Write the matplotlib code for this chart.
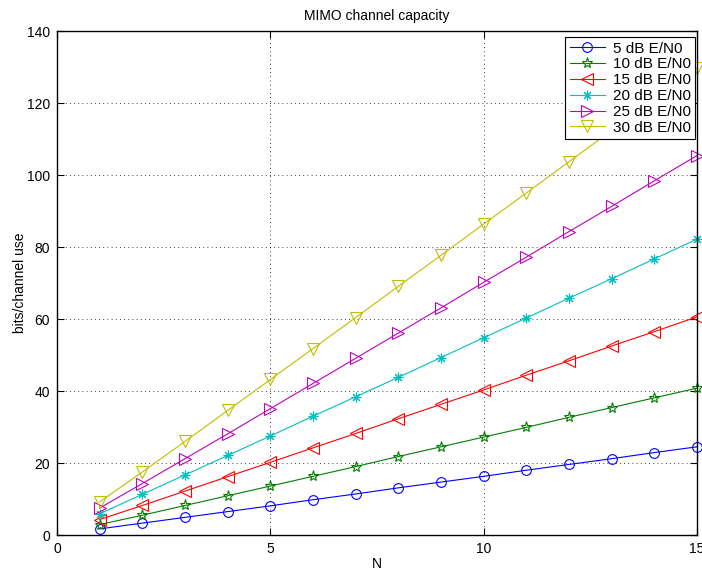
import numpy as np
import matplotlib
matplotlib.use('Agg')
import matplotlib.pyplot as plt

# antennas
N = list(range(1, 16))

# capacity (bits/channel use), one list per E/N0
cap_5 = [1.7, 3.3, 4.9, 6.5, 8.1, 9.8, 11.4, 13.1, 14.7, 16.3, 18.0, 19.6, 21.2, 22.9, 24.5]
cap_10 = [2.9, 5.5, 8.2, 10.9, 13.6, 16.3, 19.0, 21.8, 24.5, 27.2, 29.9, 32.7, 35.4, 38.1, 40.8]
cap_15 = [4.3, 8.2, 12.2, 16.2, 20.2, 24.2, 28.2, 32.3, 36.3, 40.3, 44.4, 48.4, 52.5, 56.5, 60.6]
cap_20 = [5.9, 11.3, 16.7, 22.1, 27.5, 33.0, 38.4, 43.8, 49.3, 54.8, 60.3, 65.8, 71.2, 76.7, 82.2]
cap_25 = [7.5, 14.3, 21.2, 28.1, 35.1, 42.1, 49.1, 56.1, 63.1, 70.2, 77.2, 84.3, 91.3, 98.4, 105.4]
cap_30 = [9.2, 17.5, 26.0, 34.6, 43.2, 51.8, 60.4, 69.1, 77.7, 86.4, 95.0, 103.7, 112.4, 121.1, 129.7]

labels = ['5 dB E/N0', '10 dB E/N0', '15 dB E/N0', '20 dB E/N0', '25 dB E/N0', '30 dB E/N0']


def make_figure():
    matplotlib.rcParams.update({'font.family': ['Liberation Sans', 'DejaVu Sans'],
                                'font.size': 10})
    fig = plt.figure(figsize=(7.02, 5.70), dpi=100)
    ax = fig.add_axes([0.0812, 0.0614, 0.9118, 0.8842])
    return fig, ax


fig, ax = make_figure()

series = [cap_5, cap_10, cap_15, cap_20, cap_25, cap_30]
colors = ['b', 'g', 'r', 'c', 'm', 'y']
markers = ['o', '*', '<', (8, 2, 0), '>', 'v']
sizes = [7, 8, 8, 7, 8, 8]

for y, c, mk, ms, lab in zip(series, colors, markers, sizes, labels):
    ax.plot(N, y, '-', color=c, marker=mk, markersize=ms, markerfacecolor='none',
            markeredgecolor=c, markeredgewidth=0.8, linewidth=0.8, label=lab,
            clip_on=False)

ax.set_xlim(0, 15)
ax.set_ylim(0, 140)
ax.set_xticks([0, 5, 10, 15])
ax.set_yticks(range(0, 141, 20))
ax.grid(True, linestyle=(0, (1, 4)), color='k', linewidth=0.6)
ax.tick_params(direction='in', top=True, right=True, length=5, width=0.8, pad=5)
for s in ax.spines.values():
    s.set_linewidth(1.0)

ax.set_title('MIMO channel capacity', fontsize=10, pad=8)
ax.set_xlabel('N', labelpad=1)
ax.set_ylabel('bits/channel use', labelpad=0)

# legend sits tight in the top right corner
leg = ax.legend(loc='upper right', bbox_to_anchor=(1 - 2 / 640, 1 - 6 / 504),
                borderaxespad=0, fancybox=False, framealpha=1, fontsize=11,
                edgecolor='k', handlelength=2.3, handletextpad=0.5,
                labelspacing=0.12, borderpad=0.3)
leg.get_frame().set_linewidth(0.8)

fig.savefig('out.png', dpi=100)
